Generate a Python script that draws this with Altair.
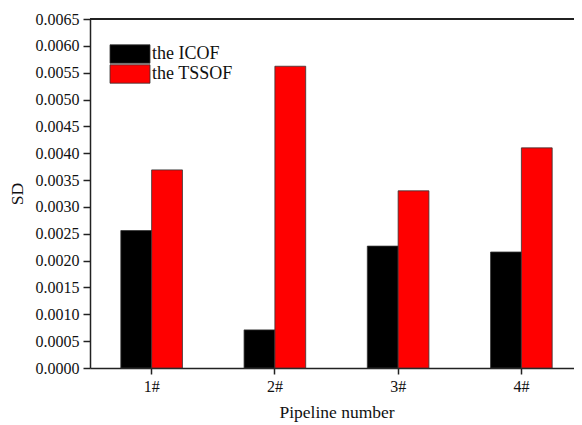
import altair as alt
import pandas as pd

pipelines = ["1#", "2#", "3#", "4#"]
series = ["the ICOF", "the TSSOF"]
icof = [0.00256, 0.00071, 0.00227, 0.00216]
tssof = [0.00369, 0.00562, 0.00330, 0.00410]
y_ticks = [round(i * 0.0005, 4) for i in range(14)]

rows = []
for p, a, b in zip(pipelines, icof, tssof):
    rows.append({"pipeline": p, "method": series[0], "sd": a})
    rows.append({"pipeline": p, "method": series[1], "sd": b})
df = pd.DataFrame(rows)

FONT = "Liberation Serif"
AX = "#222222"

bars = alt.Chart(df).mark_bar(stroke="#333333", strokeWidth=0.8).encode(
    x=alt.X("pipeline:N", sort=pipelines,
            scale=alt.Scale(paddingInner=0.5, paddingOuter=0.25, range=[0, 493]),
            axis=alt.Axis(title="Pipeline number", labelAngle=0, tickSize=6,
                          labelPadding=4, titlePadding=9)),
    xOffset=alt.XOffset("method:N", sort=series),
    y=alt.Y("sd:Q", scale=alt.Scale(domain=[0, 0.0065], nice=False),
            axis=alt.Axis(title="SD", values=y_ticks, format=".4f", tickSize=7,
                          labelPadding=4, titlePadding=9)),
    color=alt.Color("method:N", sort=series,
                    scale=alt.Scale(domain=series, range=["#000000", "#ff0000"]),
                    legend=alt.Legend(title=None, orient="none", legendX=31, legendY=26,
                                      symbolType="M-2.5,-1.15H2.5V1.15H-2.5Z", symbolSize=256,
                                      symbolStrokeColor="#333333", symbolStrokeWidth=0.8,
                                      labelFontSize=18, labelFont=FONT, labelColor="#111111",
                                      labelOffset=13, rowPadding=-2)),
)

top_line = alt.Chart(df).mark_rule(color=AX, strokeWidth=1.5).encode(
    x=alt.value(0), x2=alt.value(493), y=alt.value(0)
)

chart = alt.layer(bars, top_line).properties(
    width=484, height=349,
    autosize=alt.AutoSizeParams(type="none"),
    padding={"left": 82, "top": 11, "right": 0, "bottom": 57},
).configure_view(
    stroke=None
).configure_axis(
    labelFont=FONT, titleFont=FONT, labelFontSize=16, titleFontSize=17.5,
    labelColor="#111111", titleColor="#111111", titleFontWeight="normal",
    domainColor=AX, domainWidth=1.5, tickColor=AX, tickWidth=1.5,
    grid=False,
)

chart.save("out.html", embed_options={"renderer": "svg", "actions": False})
